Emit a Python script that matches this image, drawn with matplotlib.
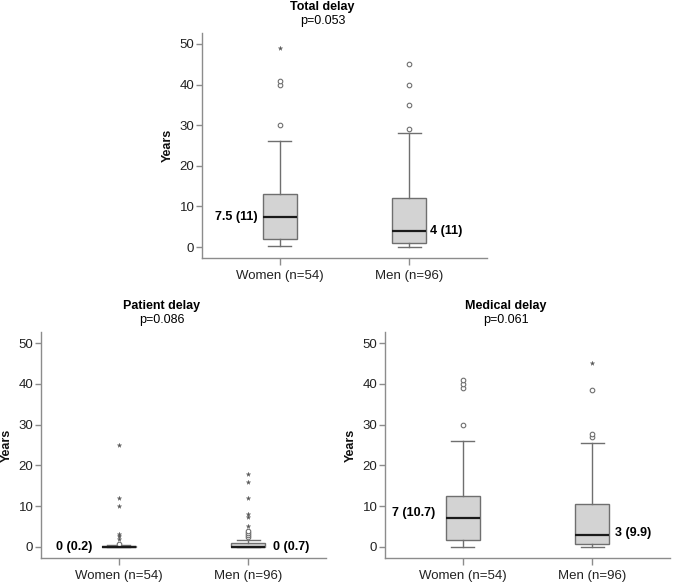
import matplotlib
matplotlib.use("Agg")
import matplotlib.pyplot as plt

plt.rcParams['font.family'] = ['Liberation Sans', 'DejaVu Sans']

groups = ["Women (n=54)", "Men (n=96)"]
yticks = [0, 10, 20, 30, 40, 50]

# Total delay
total_title = "Total delay"
total_p = "p=0.053"
total_q1 = [2.0, 1.0]
total_med = [7.5, 4.0]
total_q3 = [13.0, 12.0]
total_lo = [0.2, 0.0]
total_hi = [26.0, 28.0]
total_circles = [[30, 40, 41], [29, 35, 40, 45]]
total_stars = [[49], []]
total_labels = ["7.5 (11)", "4 (11)"]

# Patient delay
patient_title = "Patient delay"
patient_p = "p=0.086"
patient_q1 = [0.0, 0.0]
patient_med = [0.0, 0.0]
patient_q3 = [0.2, 0.9]
patient_lo = [0.0, 0.0]
patient_hi = [0.5, 1.6]
patient_circles = [[0.8], [2.5, 3.0, 3.4, 3.9]]
patient_stars = [[1.9, 2.6, 3.3, 10, 12, 25], [5.2, 7.4, 8.2, 12, 16, 18]]
patient_labels = ["0 (0.2)", "0 (0.7)"]

# Medical delay
medical_title = "Medical delay"
medical_p = "p=0.061"
medical_q1 = [1.8, 0.8]
medical_med = [7.0, 3.0]
medical_q3 = [12.5, 10.6]
medical_lo = [0.0, 0.0]
medical_hi = [26.0, 25.4]
medical_circles = [[30, 39, 40, 41], [27.0, 27.8, 38.6]]
medical_stars = [[], [45]]
medical_labels = ["7 (10.7)", "3 (9.9)"]

W, H = 674, 583
fig = plt.figure(figsize=(W / 100, H / 100), dpi=100)

GRAY = "#6f6f6f"
AXGRAY = "#8c8c8c"
FILL = "#d3d3d3"


def px_axes(left, top, right, bottom):
    return fig.add_axes([left / W, 1 - bottom / H, (right - left) / W, (bottom - top) / H])


def draw(ax, title, p, q1, med, q3, lo, hi, circles, stars, labels, label_dy=(0, 0), gap=(4, 4)):
    pos = [1, 2]
    stats = []
    for i in range(2):
        stats.append(dict(med=med[i], q1=q1[i], q3=q3[i], whislo=lo[i], whishi=hi[i], fliers=[]))
    ax.bxp(stats, positions=pos, widths=0.26, patch_artist=True, showfliers=False,
           boxprops=dict(facecolor=FILL, edgecolor=GRAY, linewidth=1.0),
           medianprops=dict(color="#1a1a1a", linewidth=1.6),
           whiskerprops=dict(color=GRAY, linewidth=1.0),
           capprops=dict(color=GRAY, linewidth=1.0),
           capwidths=0.18)
    for i in range(2):
        if circles[i]:
            ax.plot([pos[i]] * len(circles[i]), circles[i], linestyle='none', marker='o',
                    markersize=3.3, markerfacecolor='white', markeredgecolor=GRAY, markeredgewidth=0.8)
        if stars[i]:
            ax.plot([pos[i]] * len(stars[i]), stars[i], linestyle='none', marker='*',
                    markersize=3.4, color="#555555", markeredgewidth=0.2)
    # median labels
    ax.annotate(labels[0], xy=(pos[0] - 0.13, med[0]), xytext=(-gap[0], label_dy[0]),
                textcoords='offset points', ha='right', va='center', fontsize=9,
                fontweight='bold', color='black')
    ax.annotate(labels[1], xy=(pos[1] + 0.13, med[1]), xytext=(gap[1], label_dy[1]),
                textcoords='offset points', ha='left', va='center', fontsize=9,
                fontweight='bold', color='black')
    ax.set_xlim(0.4, 2.6)
    ax.set_ylim(-2.7, 52.7)
    ax.set_yticks(yticks)
    ax.set_xticks(pos)
    ax.set_xticklabels(groups)
    for s in ['top', 'right']:
        ax.spines[s].set_visible(False)
    for s in ['left', 'bottom']:
        ax.spines[s].set_color(AXGRAY)
        ax.spines[s].set_linewidth(1.0)
    ax.tick_params(axis='both', colors=AXGRAY, labelcolor='#222222', labelsize=9.5,
                   length=4, width=1.0)
    ax.tick_params(axis='x', pad=3.5, length=5)
    ax.tick_params(axis='y', pad=1.5)
    ax.set_ylabel("Years", fontsize=9, fontweight='bold', color='#111111')
    ax.yaxis.set_label_coords(-0.098, 0.5)
    ax.annotate(title, xy=(0.423, 1), xycoords='axes fraction', xytext=(0, 26 * 0.72),
                textcoords='offset points', ha='center', va='center', fontsize=9,
                fontweight='bold', color='black')
    ax.annotate(p, xy=(0.423, 1), xycoords='axes fraction', xytext=(0, 12 * 0.72),
                textcoords='offset points', ha='center', va='center', fontsize=9,
                color='black')


ax1 = px_axes(202, 33, 487, 258)
draw(ax1, total_title, total_p, total_q1, total_med, total_q3, total_lo, total_hi,
     total_circles, total_stars, total_labels, label_dy=(0, 0), gap=(3.5, 2.5))

ax2 = px_axes(41, 332, 326, 558)
draw(ax2, patient_title, patient_p, patient_q1, patient_med, patient_q3, patient_lo, patient_hi,
     patient_circles, patient_stars, patient_labels, label_dy=(0, 0), gap=(7, 6))

ax3 = px_axes(385, 332, 670, 558)
draw(ax3, medical_title, medical_p, medical_q1, medical_med, medical_q3, medical_lo, medical_hi,
     medical_circles, medical_stars, medical_labels, label_dy=(4, 1), gap=(8, 4))

fig.savefig("out.png", dpi=100, facecolor='white')
